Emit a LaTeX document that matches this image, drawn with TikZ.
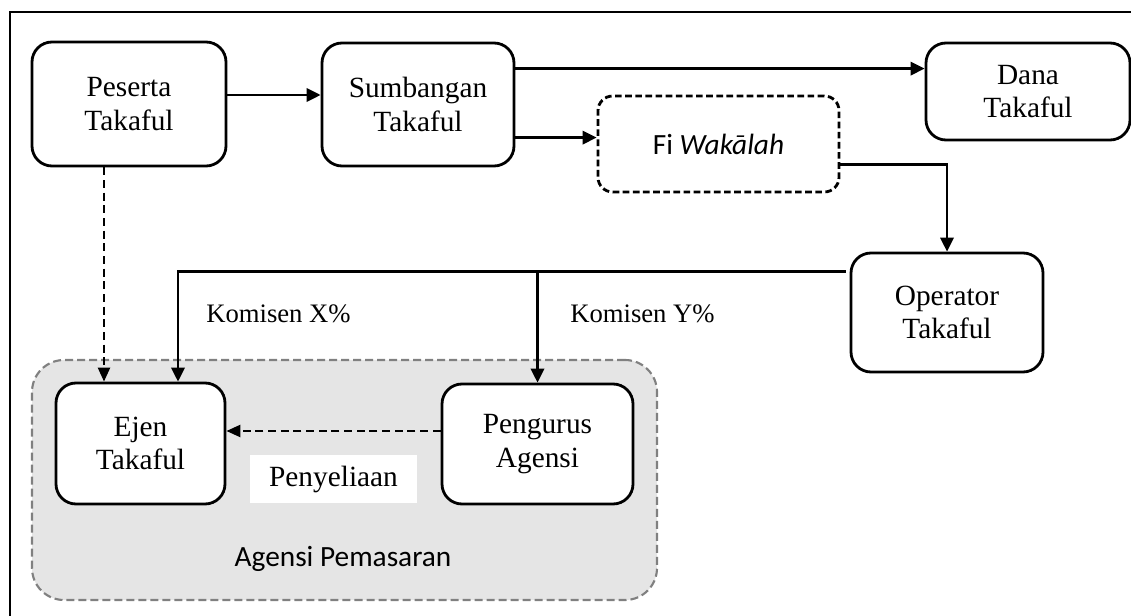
\documentclass[tikz,border=0pt]{standalone}
\usepackage{fontspec}
\setmainfont{Liberation Serif}
\newfontfamily\labelsans{Carlito}
\usetikzlibrary{arrows.meta,calc}

\tikzset{
  boxfont/.style={font=\fontsize{22pt}{25pt}\selectfont},
  stepbox/.style={draw, line width=2.1pt, rounded corners=15pt, align=center,
    inner sep=0pt, boxfont, fill=white},
  feebox/.style={stepbox, dash pattern=on 5pt off 2.6pt, rounded corners=11pt,
    font=\labelsans\fontsize{22pt}{25pt}\selectfont},
  agencybox/.style={draw=black!50, fill=black!10, line width=1.6pt,
    dash pattern=on 6pt off 3pt, rounded corners=24pt, inner sep=0pt},
  flow/.style={line width=1.8pt, -{Triangle[length=10.5pt,width=10pt]}},
  dashflow/.style={line width=1.8pt, dash pattern=on 6pt off 3.5pt,
    -{Triangle[length=10.5pt,width=9pt]}},
  rate/.style={anchor=base west, inner sep=0pt, font=\fontsize{20pt}{24pt}\selectfont},
}

\begin{document}
\begin{tikzpicture}[x=0.75pt, y=-0.75pt]
  \useasboundingbox (0,0) rectangle (1131,616);

  % outer frame (right and bottom edges lie beyond the page)
  \draw[line width=1.8pt] (10,640) -- (10,12) -- (1160,12);

  % marketing agency area
  \node[agencybox, minimum width=468.75pt, minimum height=180pt] (agensi) at (344.5,480) {};
  \node[anchor=base, inner sep=0pt, font=\labelsans\fontsize{22pt}{25pt}\selectfont]
    (agensilbl) at (343,566) {Agensi Pemasaran};
  \node[fill=white, minimum width=125.25pt, minimum height=36pt, inner sep=0pt, boxfont]
    (penyeliaan) at (333.5,479) {Penyeliaan};

  % main boxes
  \node[stepbox, minimum width=145.5pt, minimum height=93pt] (peserta) at (129,104) {Peserta\\Takaful};
  \node[stepbox, minimum width=144pt, minimum height=92.25pt] (sumbangan) at (418,104.5) {Sumbangan\\Takaful};
  \node[stepbox, minimum width=153pt, minimum height=72.75pt] (dana) at (1028,91.5) {Dana\\Takaful};
  \node[feebox, minimum width=180.75pt, minimum height=72pt] (fi) at (718.5,144) {Fi \textit{Wakālah}};
  \node[stepbox, minimum width=144pt, minimum height=89.25pt] (operator) at (947,312.5) {Operator\\Takaful};
  \node[stepbox, minimum width=126.75pt, minimum height=90.75pt] (ejen) at (140.5,443.5) {Ejen\\Takaful};
  \node[stepbox, minimum width=143.25pt, minimum height=90pt] (pengurus) at (537.5,444) {Pengurus\\Agensi};

  % contribution flows
  \coordinate (p0) at ($(peserta.east)+(0,-9)$);
  \draw[flow] (p0) -- (p0 -| sumbangan.west);
  \coordinate (s1) at ($(sumbangan.north east)+(0,27)$);
  \draw[flow] (s1) -- (s1 -| dana.west);
  \coordinate (s2) at ($(sumbangan.north east)+(0,96)$);
  \draw[flow] (s2) -- (s2 -| fi.west);
  \coordinate (f1) at ($(fi.north east)+(0,70)$);
  \draw[flow] (f1) -| (operator.north);

  % commission flows
  \coordinate (c0) at ($(operator.north west)+(-4,20)$);
  \coordinate (cx) at ($(ejen.north)+(37.5,0)$);
  \draw[flow] (c0) -| (cx);
  \draw[flow] (c0 -| pengurus.north) -- (pengurus.north);
  \node[rate] (komx) at (206,323) {Komisen X\%};
  \node[rate] (komy) at (570,323) {Komisen Y\%};

  % dashed relations
  \coordinate (d0) at ($(peserta.south)+(-25,0)$);
  \draw[dashflow] (d0) -- (d0 |- ejen.north);
  \coordinate (d1) at ($(pengurus.west)+(0,-13)$);
  \draw[dashflow] (d1) -- (d1 -| ejen.east);
\end{tikzpicture}
\end{document}
